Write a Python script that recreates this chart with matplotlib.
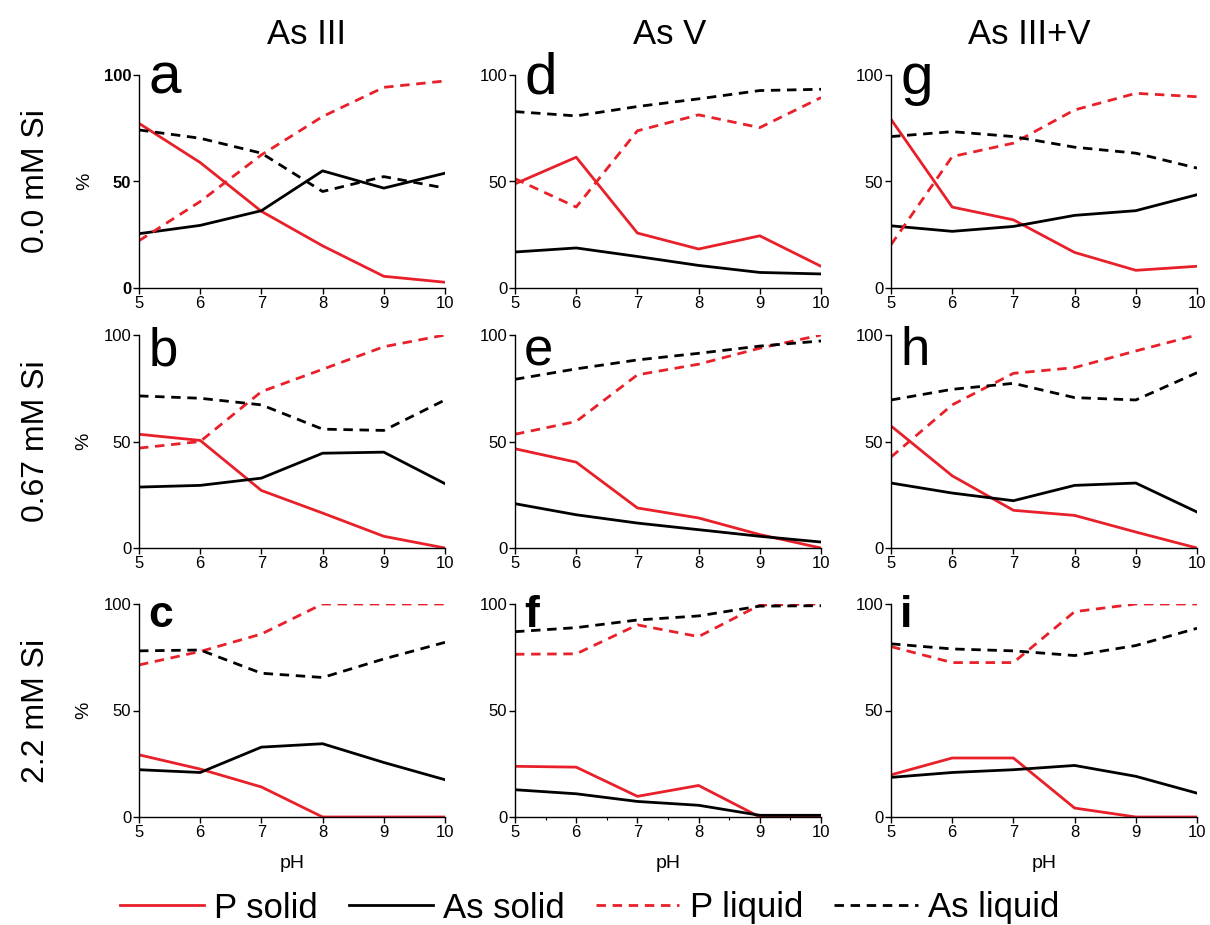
import matplotlib.pyplot as plt
from matplotlib.lines import Line2D
from matplotlib.ticker import MultipleLocator

plt.rcParams['font.family'] = ['Liberation Sans', 'DejaVu Sans']

ph = [5, 6, 7, 8, 9, 10]

# rows: 0.0, 0.67, 2.2 mM Si ; columns: As III, As V, As III+V
p_solid = {
    'a': [77.3, 58.9, 36.0, 19.8, 5.5, 2.7],
    'd': [48.9, 61.4, 25.8, 18.3, 24.5, 10.2],
    'g': [79.2, 38.0, 32.0, 16.7, 8.3, 10.2],
    'b': [53.4, 50.5, 27.0, 16.4, 5.5, 0.0],
    'e': [46.6, 40.3, 18.8, 14.1, 6.3, 0.0],
    'h': [57.3, 33.9, 17.7, 15.3, 7.5, 0.0],
    'c': [29.2, 22.5, 14.1, 0.0, 0.0, 0.0],
    'f': [23.8, 23.4, 9.7, 14.8, 0.0, 0.0],
    'i': [19.8, 27.7, 27.7, 4.2, 0.0, 0.0],
}
as_solid = {
    'a': [25.5, 29.4, 36.3, 55.0, 46.9, 53.9],
    'd': [16.9, 18.8, 14.8, 10.6, 7.3, 6.6],
    'g': [29.2, 26.6, 28.9, 34.1, 36.3, 43.8],
    'b': [28.6, 29.4, 32.8, 44.5, 45.0, 30.2],
    'e': [20.8, 15.6, 11.7, 8.6, 5.5, 2.8],
    'h': [30.5, 25.8, 22.2, 29.4, 30.5, 16.9],
    'c': [22.2, 20.9, 32.8, 34.4, 25.6, 17.5],
    'f': [12.8, 10.9, 7.3, 5.5, 0.8, 0.8],
    'i': [18.6, 20.9, 22.2, 24.2, 19.1, 11.2],
}
p_liquid = {
    'a': [22.2, 40.6, 62.5, 80.5, 94.2, 97.2],
    'd': [51.3, 38.0, 73.8, 81.3, 75.3, 89.4],
    'g': [20.3, 61.7, 68.0, 83.6, 91.4, 89.8],
    'b': [46.9, 50.0, 73.4, 83.9, 94.5, 100.0],
    'e': [53.4, 59.4, 81.3, 86.3, 93.8, 100.0],
    'h': [42.7, 67.2, 82.0, 84.7, 92.5, 100.0],
    'c': [71.4, 77.7, 85.9, 100.0, 100.0, 100.0],
    'f': [76.4, 76.6, 90.2, 84.7, 99.5, 100.0],
    'i': [80.0, 72.5, 72.5, 96.4, 100.0, 100.0],
}
as_liquid = {
    'a': [74.2, 70.3, 63.3, 45.3, 52.3, 46.9],
    'd': [82.8, 80.8, 85.2, 88.8, 92.7, 93.3],
    'g': [71.1, 73.4, 71.1, 66.1, 63.3, 56.3],
    'b': [71.4, 70.3, 67.2, 55.8, 55.2, 69.5],
    'e': [79.2, 84.1, 88.3, 91.4, 94.8, 97.2],
    'h': [69.5, 74.5, 77.3, 70.6, 69.5, 82.3],
    'c': [78.0, 78.4, 67.5, 65.5, 74.2, 82.0],
    'f': [87.0, 88.9, 92.5, 94.4, 99.0, 99.2],
    'i': [81.3, 78.9, 78.0, 75.8, 80.5, 88.6],
}

col_titles = ['As III', 'As V', 'As III+V']
row_titles = ['0.0 mM Si', '0.67 mM Si', '2.2 mM Si']
letters = [['a', 'd', 'g'], ['b', 'e', 'h'], ['c', 'f', 'i']]

RED = '#e8202a'
W, H = 1210, 925
col_x = [139, 515, 891]
row_bottom = [288, 548, 817]
aw, ah = 306, 213
dash = (3.4, 2.4)

# panel letter style per row: (size, weight, baseline in axes fraction)
letter_style = [(42, 'normal', 0.911), (38, 'normal', 0.859), (32, 'bold', 0.892)]
title_x = [306, 670, 1029]

fig = plt.figure(figsize=(W / 100, H / 100), dpi=100)

for r in range(3):
    for c in range(3):
        k = letters[r][c]
        ax = fig.add_axes([col_x[c] / W, 1 - row_bottom[r] / H, aw / W, ah / H])
        ax.plot(ph, p_solid[k], color=RED, lw=2.0)
        ax.plot(ph, as_solid[k], color='black', lw=2.0)
        ax.plot(ph, p_liquid[k], color=RED, lw=2.0, dashes=dash)
        ax.plot(ph, as_liquid[k], color='black', lw=2.0, dashes=dash)
        ax.set_xlim(5, 10)
        ax.set_ylim(0, 100)
        ax.set_xticks(ph)
        ax.set_yticks([0, 50, 100])
        if k == 'f':
            ax.xaxis.set_minor_locator(MultipleLocator(0.5))
            ax.tick_params(axis='x', which='minor', length=2.5, width=0.8)
        for s in ['top', 'right']:
            ax.spines[s].set_visible(False)
        for s in ['left', 'bottom']:
            ax.spines[s].set_linewidth(1.0)
        ax.tick_params(labelsize=12, length=4, width=1.0, pad=1.5)
        if k == 'a':
            for t in ax.get_yticklabels():
                t.set_fontweight('bold')
        size, weight, yb = letter_style[r]
        ax.text(0.03, yb, k, transform=ax.transAxes, fontsize=size, va='baseline',
                ha='left', fontweight=weight)
        if c == 0:
            ax.set_ylabel('%', fontsize=14, labelpad=8)
        if r == 2:
            ax.set_xlabel('pH', fontsize=14, labelpad=11)

for c in range(3):
    fig.text(title_x[c] / W, 1 - 35 / H, col_titles[c], fontsize=25,
             ha='center', va='center')
for r in range(3):
    fig.text(36 / W, 1 - (row_bottom[r] - ah / 2) / H, row_titles[r], fontsize=23,
             rotation=90, ha='center', va='center')

handles = [
    Line2D([], [], color=RED, lw=2.0),
    Line2D([], [], color='black', lw=2.0),
    Line2D([], [], color=RED, lw=2.0, dashes=dash),
    Line2D([], [], color='black', lw=2.0, dashes=dash),
]
labels = ['P solid', 'As solid', 'P liquid', 'As liquid']
fig.legend(handles, labels, loc='center', bbox_to_anchor=(590 / W, 1 - 908 / H),
           ncol=4, frameon=False, fontsize=25, handlelength=2.4,
           handletextpad=0.3, columnspacing=0.9)

fig.savefig('out.png', dpi=100)
